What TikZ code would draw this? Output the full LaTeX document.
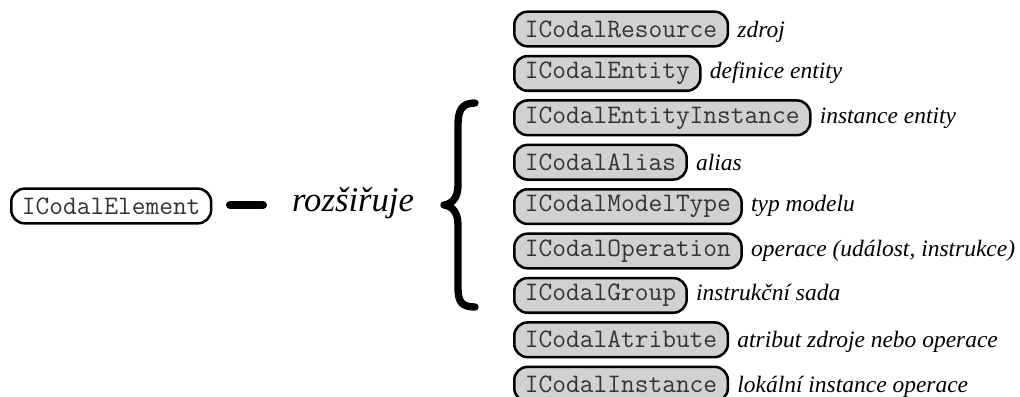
\documentclass[tikz,border=0pt]{standalone}
\usepackage{fontspec}
\setmainfont{Liberation Serif}
\usetikzlibrary{positioning}

\begin{document}
\begin{tikzpicture}[x=0.75pt,y=-0.75pt,
  iface/.style={draw,line width=1.9pt,rounded corners=10pt,fill=black!18,minimum height=26pt,inner xsep=8pt,inner ysep=0pt,font=\ttfamily\fontsize{20}{20}\selectfont,text=black!80},
  desc/.style={font=\itshape\fontsize{17.6}{17.6}\selectfont,inner sep=0pt}]
\useasboundingbox (0,0) rectangle (1020,396);
\node[iface,fill=white,anchor=west] (elem) at (10,206) {ICodalElement};
\coordinate (dashl) at (230,205);
\coordinate (dashr) at (263,205);
\draw[line width=6pt,line cap=round] (dashl) -- (dashr);
\node[font=\itshape\fontsize{26}{26}\selectfont] (ext) at (353,203) {rozšiřuje};
\draw[line width=5.5pt,line cap=round,line join=round] (475,103) .. controls (462,103) and (458,110) .. (458,125) -- (458,185)
   .. controls (458,198) and (452,204) .. (444,205) .. controls (452,206) and (458,212) .. (458,225)
   -- (458,288) .. controls (458,302) and (462,307) .. (475,307);
\foreach \i/\n/\d in %
{0/ICodalResource/zdroj,1/ICodalEntity/definice entity,2/ICodalEntityInstance/instance entity,
 3/ICodalAlias/alias,4/ICodalModelType/typ modelu,5/ICodalOperation/{operace (událost, instrukce)},
 6/ICodalGroup/instrukční sada,7/ICodalAtribute/atribut zdroje nebo operace,8/ICodalInstance/lokální instance operace} {
   \node[iface,anchor=west] (\n) at (513,29+44.4*\i) {\n};
   \node[desc,right=6pt of \n.base east,anchor=base west] (\n-d) {\d};
}
\end{tikzpicture}
\end{document}
